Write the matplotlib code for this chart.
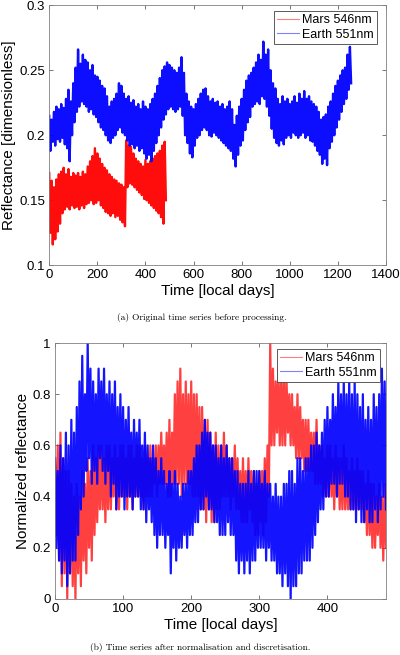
import matplotlib
matplotlib.use("Agg")
import matplotlib.pyplot as plt
from matplotlib.ticker import FuncFormatter
import numpy as np

# (a) raw reflectance, thousandths; upper swing every 10 days from day 0,
# lower swing every 10 days from day 5
EARTH_RAW_HI = [215, 212, 218, 222, 220, 224, 221, 228, 235, 226,
                240, 252, 266, 255, 262, 258, 256, 250, 254, 246,
                245, 242, 238, 236, 230, 222, 226, 228, 232, 240,
                238, 232, 228, 230, 225, 227, 222, 224, 220, 226,
                222, 220, 224, 228, 232, 238, 244, 250, 253, 256,
                254, 252, 250, 248, 252, 260, 248, 232, 226, 222,
                220, 224, 228, 232, 235, 236, 230, 226, 228, 225,
                226, 222, 224, 220, 222, 226, 220, 208, 215, 222,
                228, 235, 242, 246, 248, 252, 256, 262, 258, 272,
                262, 266, 250, 240, 236, 228, 224, 230, 226, 228,
                224, 226, 230, 225, 232, 228, 234, 228, 230, 226,
                224, 222, 218, 212, 214, 216, 222, 226, 232, 238,
                242, 246, 250, 252, 262, 268]
EARTH_RAW_LO = [188, 195, 192, 197, 195, 198, 193, 190, 180, 200,
                210, 218, 222, 226, 224, 222, 218, 220, 216, 214,
                210, 206, 204, 200, 196, 194, 198, 200, 204, 206,
                202, 200, 196, 192, 193, 190, 192, 188, 190, 186,
                182, 185, 180, 188, 194, 200, 206, 212, 216, 220,
                222, 220, 218, 220, 222, 215, 200, 194, 186, 183,
                192, 198, 200, 204, 206, 204, 200, 199, 202, 200,
                198, 196, 194, 192, 190, 188, 182, 176, 185, 192,
                196, 204, 210, 214, 222, 224, 226, 224, 230, 228,
                222, 215, 205, 198, 194, 192, 196, 193, 198, 200,
                198, 202, 200, 198, 200, 202, 198, 200, 196, 195,
                192, 188, 185, 178, 182, 177, 190, 195, 200, 206,
                212, 218, 224, 228, 235, 240]
MARS_RAW_HI = [171, 165, 160, 166, 170, 172, 175, 170, 174, 168,
               171, 169, 171, 168, 172, 170, 176, 180, 184, 190,
               186, 182, 178, 175, 173, 170, 168, 166, 165, 163,
               162, 160, 196, 192, 191, 186, 182, 180, 178, 176,
               181, 178, 180, 182, 184, 186, 188, 192, 195]
MARS_RAW_LO = [125, 116, 120, 126, 132, 140, 143, 145, 143, 146,
               144, 145, 143, 146, 144, 147, 148, 150, 147, 148,
               150, 146, 144, 141, 140, 138, 140, 137, 138, 135,
               133, 130, 160, 163, 162, 160, 158, 156, 154, 151,
               150, 148, 146, 144, 142, 140, 137, 132, 150]

# (b) normalised levels in twentieths; upper swing every 4 days from day 0,
# lower swing every 4 days from day 2
EARTH_NORM_HI = [11, 10, 12, 11, 13, 12, 14, 13, 15, 17,
                 19, 16, 20, 18, 17, 16, 18, 17, 18, 16,
                 17, 16, 17, 15, 16, 15, 14, 15, 13, 14,
                 13, 14, 12, 13, 12, 11, 12, 11, 10, 11,
                 10, 9, 10, 9, 10, 9, 8, 9, 9, 10,
                 10, 11, 12, 12, 13, 14, 13, 13, 12, 12,
                 11, 12, 11, 12, 11, 11, 10, 10, 9, 9,
                 9, 10, 9, 10, 10, 10, 9, 10, 9, 9,
                 8, 9, 8, 8, 9, 9, 10, 10, 9, 11,
                 11, 10, 11, 11, 12, 12, 13, 12, 13, 14,
                 15, 14, 16, 15, 17, 16, 17, 16, 17, 16,
                 17, 16, 15, 16, 14, 15, 14, 16, 15, 16,
                 18, 17]
EARTH_NORM_LO = [4, 3, 2, 3, 1, 2, 3, 3, 5, 7,
                 8, 10, 11, 9, 10, 9, 11, 10, 9, 10,
                 8, 9, 7, 8, 8, 7, 8, 8, 7, 8,
                 8, 7, 7, 6, 7, 6, 5, 4, 5, 5,
                 4, 5, 2, 4, 3, 4, 4, 5, 4, 5,
                 5, 6, 6, 7, 7, 8, 7, 7, 6, 6,
                 5, 5, 5, 6, 5, 5, 3, 2, 3, 2,
                 3, 2, 3, 3, 4, 4, 4, 3, 4, 3,
                 3, 2, 2, 1, 2, 1, 0, 1, 1, 2,
                 2, 3, 3, 3, 4, 5, 6, 7, 7, 8,
                 8, 9, 9, 8, 9, 9, 8, 8, 7, 7,
                 6, 7, 6, 6, 7, 6, 6, 7, 6, 7,
                 8, 7]
MARS_NORM_HI = [11, 12, 13, 11, 10, 10, 9, 8, 9, 8,
                10, 9, 11, 10, 12, 11, 12, 12, 11, 12,
                12, 11, 12, 11, 12, 12, 11, 12, 12, 11,
                12, 12, 11, 12, 11, 12, 11, 12, 12, 13,
                12, 13, 14, 13, 16, 17, 18, 16, 17, 16,
                17, 16, 16, 15, 15, 14, 14, 13, 12, 13,
                12, 12, 13, 12, 11, 11, 12, 11, 10, 11,
                10, 11, 10, 10, 9, 10, 10, 11, 12, 20,
                18, 17, 18, 17, 18, 17, 16, 16, 15, 16,
                15, 14, 14, 14, 13, 13, 14, 12, 12, 11,
                12, 12, 11, 12, 11, 11, 12, 11, 10, 11,
                10, 11, 10, 10, 9, 10, 9, 9, 8, 9,
                8, 9]
MARS_NORM_LO = [5, 3, 1, 2, 0, 2, 1, 0, 2, 1,
                3, 2, 4, 3, 5, 6, 7, 7, 6, 7,
                7, 8, 7, 7, 8, 8, 7, 8, 7, 8,
                8, 8, 7, 8, 8, 8, 9, 8, 9, 9,
                9, 8, 8, 9, 9, 9, 8, 9, 9, 9,
                8, 8, 8, 7, 7, 6, 7, 6, 6, 7,
                7, 8, 8, 8, 7, 8, 7, 7, 6, 6,
                6, 7, 6, 5, 5, 6, 5, 6, 8, 12,
                12, 13, 12, 12, 12, 13, 12, 12, 11, 11,
                11, 10, 10, 10, 10, 9, 9, 9, 8, 8,
                8, 8, 7, 8, 7, 7, 7, 7, 7, 7,
                7, 7, 7, 6, 5, 5, 4, 4, 5, 4,
                3, 4]

LABELS = ["Mars 546nm", "Earth 551nm"]
CAPTIONS = ["(a) Original time series before processing.",
            "(b) Time series after normalisation and discretisation."]


def zigzag(hi, lo, step, scale):
    """Merge the upper and lower swings into one time-ordered series."""
    t = np.concatenate([np.arange(len(hi)) * step,
                        np.arange(len(lo)) * step + step / 2])
    v = np.concatenate([hi, lo]) * scale
    order = np.argsort(t, kind="stable")
    return t[order], v[order]


def style(ax, legend_corner):
    ax.tick_params(direction="in", top=True, right=True, length=3,
                   width=0.6, labelsize=9.5, color="#606060", pad=3)
    for spine in ax.spines.values():
        spine.set_linewidth(0.6)
        spine.set_color("#808080")
    ax.yaxis.set_major_formatter(FuncFormatter(lambda v, _: f"{v:g}"))
    leg = ax.legend(loc="upper right", fontsize=9, fancybox=False,
                    framealpha=1, edgecolor="#404040", handlelength=1.8,
                    bbox_to_anchor=legend_corner, bbox_transform=fig.transFigure,
                    borderaxespad=0, borderpad=0.25, labelspacing=0.2,
                    handletextpad=0.25)
    leg.get_frame().set_linewidth(0.6)
    for handle in leg.get_lines():
        handle.set_alpha(0.5)
        handle.set_linewidth(0.8)


plt.rcParams["font.family"] = ["Liberation Sans", "DejaVu Sans"]
fig = plt.figure(figsize=(4, 6.55), dpi=100)

ax1 = fig.add_axes([0.123, 0.595, 0.842, 0.397])
t, v = zigzag(MARS_RAW_HI, MARS_RAW_LO, 10, 0.001)
ax1.plot(t, v, color="red", lw=1.7, alpha=0.95, label=LABELS[0])
t, v = zigzag(EARTH_RAW_HI, EARTH_RAW_LO, 10, 0.001)
ax1.plot(t, v, color="blue", lw=1.7, alpha=0.95, label=LABELS[1])
ax1.set_xlim(0, 1400)
ax1.set_ylim(0.1, 0.3)
ax1.set_xticks(np.arange(0, 1401, 200))
ax1.set_yticks([0.1, 0.15, 0.2, 0.25, 0.3])
ax1.set_xlabel("Time [local days]", fontsize=11, labelpad=2)
ax1.set_ylabel("Reflectance [dimensionless]", fontsize=11, labelpad=2)
style(ax1, (377 / 400, 1 - 11 / 655))

ax2 = fig.add_axes([0.1375, 0.0855, 0.8275, 0.3908])
t, v = zigzag(MARS_NORM_HI, MARS_NORM_LO, 4, 0.05)
ax2.plot(t, v, color="red", lw=1.6, alpha=0.75, label=LABELS[0])
t, v = zigzag(EARTH_NORM_HI, EARTH_NORM_LO, 4, 0.05)
ax2.plot(t, v, color="blue", lw=1.6, alpha=0.92, label=LABELS[1])
ax2.set_xlim(0, 486)
ax2.set_ylim(0, 1)
ax2.set_xticks(np.arange(0, 401, 100))
ax2.set_yticks(np.arange(0, 1.01, 0.2))
ax2.set_xlabel("Time [local days]", fontsize=11, labelpad=2)
ax2.set_ylabel("Normalized reflectance", fontsize=11, labelpad=2)
style(ax2, (380 / 400, 1 - 349 / 655))

fig.text(0.505, 1 - 318 / 655, CAPTIONS[0], ha="center", va="center",
         family="cmr10", fontsize=6.8)
fig.text(0.5, 1 - 647 / 655, CAPTIONS[1], ha="center", va="center",
         family="cmr10", fontsize=6.8)

fig.savefig("out.png", dpi=100)
